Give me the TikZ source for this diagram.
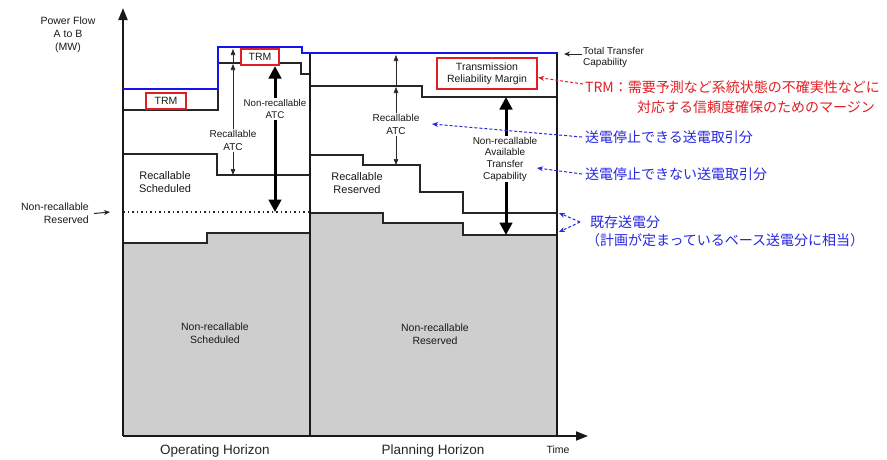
\documentclass[tikz,border=0pt]{standalone}
\usepackage{fontspec}
\setmainfont{Liberation Sans}
\newfontfamily\cjk{Noto Sans CJK JP}
\usetikzlibrary{arrows.meta}
\definecolor{shadegray}{RGB}{206,206,206}
\definecolor{trmred}{RGB}{225,30,35}
\definecolor{noteblue}{RGB}{40,40,225}
\definecolor{lineblue}{RGB}{20,20,235}
\begin{document}
\begin{tikzpicture}[x=1pt,y=-1pt,
  lbl/.style={align=center, inner sep=1pt, text=black!90, font=\fontsize{10}{12.5}\selectfont},
  biglbl/.style={align=center, inner sep=1pt, text=black!90, font=\fontsize{11}{13}\selectfont},
  horlbl/.style={inner sep=0pt, anchor=base, text=black!85, font=\fontsize{13.5}{16}\selectfont},
  stair/.style={line width=1.2pt, draw=black!85},
  frame/.style={line width=1.9pt, draw=black!90},
  trmbox/.style={draw=trmred, line width=2.2pt, fill=white, inner sep=0pt, text=black!90, font=\fontsize{10.5}{12}\selectfont, align=center},
  thinarr/.style={line width=0.6pt, draw=black!85, -{Triangle[length=6pt,width=4.5pt]}},
  thickarr/.style={line width=3pt, draw=black, -{Triangle[length=12.5pt,width=12.5pt]}},
  axisarr/.style={frame, -{Triangle[length=12pt,width=9pt]}},
  smallarr/.style={line width=1pt, draw=black!85, -{Stealth[length=6pt,width=5pt]}},
  redarr/.style={trmred, dash pattern=on 3pt off 2pt, line width=1pt, -{Stealth[length=6pt,width=5pt]}},
  bluearr/.style={noteblue, dash pattern=on 3pt off 2pt, line width=1pt, -{Stealth[length=6pt,width=5pt]}},
  rednote/.style={anchor=west, inner sep=0pt, text=trmred, font=\cjk\fontsize{14}{16}\selectfont},
  bluenote/.style={anchor=west, inner sep=0pt, text=noteblue, font=\cjk\fontsize{14}{16}\selectfont}]

\fill[white] (0,0) rectangle (887,459);
\useasboundingbox (0,0) rectangle (887,459);

% shaded regions
\fill[shadegray] (123,243) -- (207,243) -- (207,233) -- (310,233) -- (310,436) -- (123,436) -- cycle;
\fill[shadegray] (310,213) -- (383,213) -- (383,223) -- (463,223) -- (463,235) -- (557,235) -- (557,436) -- (310,436) -- cycle;
\draw[stair] (123,243) -- (207,243) -- (207,233) -- (310,233);
\draw[stair] (310,213) -- (383,213) -- (383,223) -- (463,223) -- (463,235) -- (557,235);

% operating horizon steps
\draw[stair] (123,110) -- (218,110) -- (218,63) -- (301,63) -- (301,74) -- (310,74);
\draw[stair] (123,154) -- (217,154) -- (217,175) -- (310,175);
\draw[line width=1.1pt, draw=black!85, dash pattern=on 1.5pt off 3pt] (123,212) -- (310,212);

% planning horizon steps
\draw[stair] (310,86) -- (422,86) -- (422,97) -- (557,97);
\draw[stair] (310,155) -- (363,155) -- (363,165) -- (420,165) -- (420,192) -- (463,192) -- (463,213) -- (557,213);

% frames and axes
\draw[frame] (310,53) -- (310,436);
\draw[frame] (557,53) -- (557,436);
\coordinate (origin) at (123,436);
\coordinate (ytip) at (123,8);
\coordinate (xtip) at (588,436);
\draw[axisarr] (origin) -- (ytip);
\draw[axisarr] (origin) -- (xtip);

% total transfer capability line
\draw[lineblue, line width=2.8pt] (123,89) -- (218,89) -- (218,47) -- (302,47) -- (302,53) -- (558,53);

% TRM boxes
\node[trmbox, minimum width=40pt, minimum height=16pt] (trm1) at (166,101) {TRM};
\node[trmbox, minimum width=38pt, minimum height=16pt] (trm2) at (260,57) {TRM};
\node[trmbox, minimum width=100pt, minimum height=31pt, font=\fontsize{10.5}{12}\selectfont] (trm3) at (487,73.5) {Transmission\\Reliability Margin};

% operating horizon ATC arrows
\node[lbl] (ratc1) at (233,140.5) {Recallable\\ATC};
\coordinate (r1top) at (233,49);
\coordinate (r1mid) at (233,64);
\coordinate (r1bot) at (233,175);
\draw[thinarr] (ratc1.north) -- (r1mid);
\draw[thinarr] (r1mid) -- (r1top);
\draw[thinarr] (ratc1.south) -- (r1bot);

\node[lbl, font=\fontsize{9.7}{12}\selectfont] (nratc1) at (275,109) {Non-recallable\\ATC};
\coordinate (n1bot) at (275,212);
\draw[thickarr] (nratc1.north) -- (nratc1.north |- trm2.south);
\draw[thickarr] (nratc1.south) -- (n1bot);

% planning horizon ATC arrows
\node[lbl] (ratc2) at (396,124.5) {Recallable\\ATC};
\coordinate (r2top) at (396,55);
\coordinate (r2mid) at (396,87);
\coordinate (r2bot) at (396,165);
\draw[thinarr] (ratc2.north) -- (r2mid);
\draw[thinarr] (r2mid) -- (r2top);
\draw[thinarr] (ratc2.south) -- (r2bot);

\node[lbl, font=\fontsize{10}{11.7}\selectfont] (nratc2) at (505,159) {Non-recallable\\Available\\Transfer\\Capability};
\coordinate (n2top) at (506,97);
\coordinate (n2bot) at (506,235);
\draw[thickarr] (nratc2.north -| n2top) -- (n2top);
\draw[thickarr] (nratc2.south -| n2bot) -- (n2bot);

% region labels
\node[biglbl] (rsched) at (165,182.5) {Recallable\\Scheduled};
\node[biglbl] (rres) at (357,183.5) {Recallable\\Reserved};
\node[lbl, font=\fontsize{10.5}{13}\selectfont] (nrsched) at (215,333) {Non-recallable\\Scheduled};
\node[lbl, font=\fontsize{10.5}{13}\selectfont] (nrres) at (435,334) {Non-recallable\\Reserved};

% axis labels
\node[lbl, font=\fontsize{10.5}{13}\selectfont] (pf) at (68,35) {Power Flow\\A to B\\(MW)};
\node[lbl, font=\fontsize{10.5}{13}\selectfont, align=right, anchor=east] (nrr) at (90,213.5) {Non-recallable\\Reserved};
\coordinate (nrrtip) at (110,212);
\draw[smallarr] ([xshift=4pt]nrr.east) -- (nrrtip);
\node[horlbl] (oh) at (215,454) {Operating Horizon};
\node[horlbl] (ph) at (433,454.5) {Planning Horizon};
\node[lbl, font=\fontsize{10.5}{12}\selectfont] (time) at (558,450) {Time};

\node[lbl, align=left, anchor=west, font=\fontsize{10}{11}\selectfont] (ttc) at (582,57.5) {Total Transfer\\Capability};
\coordinate (ttctip) at (564,54);
\draw[smallarr] (ttc.west |- ttctip) -- (ttctip);

% notes
\node[rednote] (redA) at (585,87) {TRM：需要予測など系統状態の不確実性などに};
\node[rednote] (redB) at (637,107) {対応する信頼度確保のためのマージン};
\draw[redarr] ([xshift=-2pt,yshift=3pt]redA.west) -- ([yshift=-4pt]trm3.east);

\node[bluenote] (blueA) at (585,137) {送電停止できる送電取引分};
\coordinate (bAtip) at (432,124);
\draw[bluearr] ([xshift=-3pt]blueA.west) -- (bAtip);

\node[bluenote] (blueB) at (585,174) {送電停止できない送電取引分};
\coordinate (bBtip) at (537,168);
\draw[bluearr] ([xshift=-3pt]blueB.west) -- (bBtip);

\node[bluenote] (blueC) at (590,222) {既存送電分};
\node[bluenote] (blueD) at (586,240) {（計画が定まっているベース送電分に相当）};
\coordinate (bCjoin) at (580,222);
\coordinate (bCtip1) at (559,213);
\coordinate (bCtip2) at (559,232);
\draw[bluearr] (bCjoin) -- (bCtip1);
\draw[bluearr] (bCjoin) -- (bCtip2);
\end{tikzpicture}
\end{document}
